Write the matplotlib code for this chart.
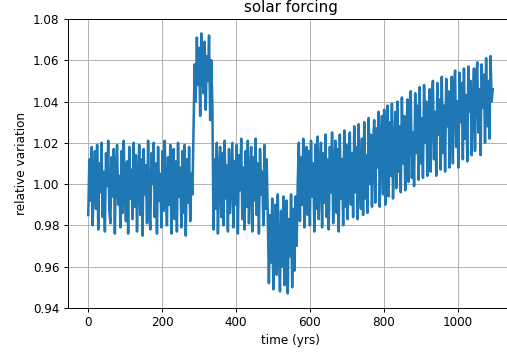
import numpy as np
import matplotlib.pyplot as plt

# relative solar forcing, one value every 3 years
quiet_early = [0.985, 1.012, 0.992, 1.018, 0.980, 1.003, 1.016, 0.988, 1.019, 0.978,
               1.010, 0.996, 1.020, 0.984, 1.006, 0.977, 1.015, 0.999, 1.021, 0.987,
               0.981, 1.013, 0.994, 1.017, 0.976, 1.008, 1.019, 0.990, 1.004, 0.979,
               1.016, 0.986, 1.021, 0.997, 0.982, 1.011, 0.976, 1.018, 0.993, 1.007,
               0.983, 1.020, 0.989, 1.014, 0.977, 1.002, 1.019, 0.985, 1.012, 0.975,
               1.017, 0.995, 1.009, 0.981, 1.021, 0.988, 0.978, 1.015, 1.000, 1.020,
               0.984, 1.010, 0.976, 1.018, 0.992, 1.005, 0.979, 1.016, 0.987, 1.021,
               0.997, 0.980, 1.013, 0.990, 1.019, 0.976, 1.006, 1.017, 0.983, 1.011,
               0.977, 1.020, 0.994, 1.008, 0.979, 1.016, 0.986, 1.019, 0.975, 1.012,
               0.991, 1.018, 0.982, 1.005, 0.995]
high_phase = [1.028, 1.058, 1.040, 1.071, 1.048, 1.066, 1.033, 1.073, 1.055, 1.044,
              1.069, 1.036, 1.062, 1.050, 1.072, 1.031, 1.060, 1.038]
quiet_mid = [0.978, 1.012, 0.988, 1.020, 0.976, 1.006, 1.018, 0.984, 1.015, 0.980,
             1.021, 0.993, 1.009, 0.977, 1.017, 0.986, 1.003, 1.020, 0.979, 1.011,
             0.990, 1.019, 0.976, 1.014, 0.997, 1.022, 0.983, 1.008, 0.978, 1.016,
             0.989, 1.021, 0.981, 1.004, 1.018, 0.977, 1.013, 0.992, 1.022, 0.985,
             1.010, 0.976, 1.017, 0.995, 1.006, 0.980, 1.019, 0.988, 1.012, 0.984]
low_phase = [0.952, 0.985, 0.962, 0.993, 0.949, 0.978, 0.990, 0.956, 0.995, 0.968,
             0.948, 0.987, 0.960, 0.994, 0.951, 0.975, 0.992, 0.947, 0.983, 0.965,
             0.995, 0.950, 0.988, 0.958, 0.994, 0.970]
rising = [1.000, 1.020, 0.982, 1.013, 0.990, 1.022, 0.979, 1.008, 1.018, 0.985,
          1.016, 0.980, 1.021, 0.994, 1.010, 0.977, 1.019, 0.988, 1.023, 0.983,
          1.006, 1.020, 0.979, 1.015, 0.991, 1.024, 0.984, 1.012, 0.978, 1.018,
          0.996, 1.025, 0.981, 1.009, 1.021, 0.986, 1.017, 0.977, 1.024, 0.993,
          1.012, 0.980, 1.026, 0.989, 1.019, 0.983, 1.007, 1.025, 0.990, 1.015,
          0.984, 1.028, 0.996, 1.018, 0.983, 1.029, 1.002, 0.988, 1.022, 0.985,
          1.030, 0.993, 1.014, 0.986, 1.032, 1.000, 1.024, 0.989, 1.019, 1.031,
          0.991, 1.027, 1.008, 1.035, 0.989, 1.018, 1.033, 0.995, 1.036, 0.990,
          1.022, 1.038, 0.994, 1.030, 1.004, 1.039, 0.993, 1.016, 1.035, 0.998,
          1.040, 1.006, 1.028, 0.996, 1.042, 1.010, 1.033, 0.997, 1.021, 1.041,
          1.001, 1.036, 1.045, 1.003, 1.025, 0.999, 1.044, 1.015, 1.038, 1.002,
          1.047, 1.010, 1.032, 1.003, 1.048, 1.020, 1.040, 1.004, 1.029, 1.046,
          1.006, 1.043, 1.050, 1.012, 1.035, 1.004, 1.049, 1.024, 1.041, 1.007,
          1.052, 1.015, 1.038, 1.006, 1.051, 1.028, 1.045, 1.008, 1.033, 1.052,
          1.010, 1.047, 1.055, 1.018, 1.040, 1.008, 1.054, 1.030, 1.049, 1.012,
          1.056, 1.022, 1.043, 1.011, 1.057, 1.035, 1.050, 1.014, 1.038, 1.056,
          1.016, 1.052, 1.059, 1.025, 1.046, 1.014, 1.058, 1.037, 1.053, 1.020,
          1.061, 1.028, 1.050, 1.022, 1.062, 1.040, 1.046]

forcing = np.array(quiet_early + high_phase + quiet_mid + low_phase + rising)
years = np.arange(len(forcing)) * 3

dpi = 86.4
fig = plt.figure(figsize=(507/dpi, 358/dpi), dpi=dpi)
ax = fig.add_axes([0.134, 0.14, 0.878, 0.807])
ax.plot(years, forcing, color='#1f77b4', lw=2.1)
ax.set_ylim(0.94, 1.08)
ax.set_xlim(-55, 1150)
ax.set_xticks([0, 200, 400, 600, 800, 1000])
ax.grid(True)
ax.spines['right'].set_visible(False)
ax.set_title('solar forcing', fontsize=12.5)
ax.set_xlabel('time (yrs)')
ax.set_ylabel('relative variation')
fig.savefig('out.png', dpi=dpi)
